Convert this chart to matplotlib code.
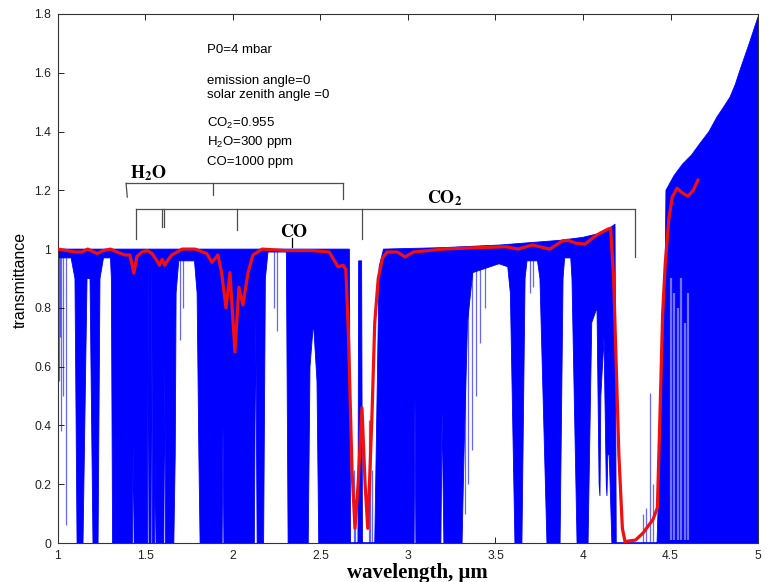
# Transmittance spectrum, 1-5 um, with smoothed curve and band markers

import numpy as np
import matplotlib
matplotlib.use("Agg")
import matplotlib.pyplot as plt

plt.rcParams['font.family'] = ['Liberation Sans', 'DejaVu Sans']
plt.rcParams['mathtext.fontset'] = 'custom'
plt.rcParams['mathtext.rm'] = 'Liberation Sans'
plt.rcParams['mathtext.it'] = 'Liberation Sans:italic'
plt.rcParams['mathtext.bf'] = 'Liberation Sans:bold'

# upper envelope of the high-resolution spectrum
up_wl = [1.0, 2.665, 2.672, 2.714, 2.718, 2.735, 2.74, 2.81, 2.835, 2.86, 3.2, 3.526,
         3.87, 4.0, 4.097, 4.15, 4.183, 4.19, 4.423, 4.469, 4.474, 4.52, 4.57, 4.62,
         4.669, 4.72, 4.766, 4.80, 4.84, 4.87, 4.897, 4.95, 5.0]
up_t = [1.0, 1.0, 0.0, 0.0, 0.96, 0.96, 0.0, 0.0, 0.94, 1.0, 1.005, 1.014,
        1.03, 1.04, 1.054, 1.07, 1.085, 0.0, 0.0, 0.9, 1.2, 1.25, 1.29, 1.32,
        1.36, 1.40, 1.45, 1.48, 1.517, 1.56, 1.609, 1.70, 1.79]

# lower envelope (deepest line in each part of the spectrum)
low_wl = [1.000, 1.075, 1.097, 1.109, 1.143,
          1.166, 1.183, 1.200, 1.229, 1.240, 1.260, 1.300, 1.305, 1.312, 1.425,
          1.430, 1.435, 1.512, 1.516, 1.520, 1.532, 1.536, 1.540, 1.552, 1.556,
          1.560, 1.605, 1.610, 1.615, 1.662, 1.670, 1.675, 1.690, 1.780, 1.795,
          1.805, 1.812, 1.938, 1.943, 1.948, 2.122, 2.130, 2.138, 2.175, 2.185,
          2.200, 2.305, 2.315, 2.430, 2.440, 2.460, 2.480, 2.490, 3.035, 3.040,
          3.045, 3.188, 3.195, 3.205, 3.309, 3.320, 3.340, 3.370, 3.470, 3.520,
          3.570, 3.585, 3.611, 3.651, 3.669, 3.680, 3.740, 3.754, 3.794, 3.869,
          3.886, 3.895, 3.930, 3.937, 3.966, 4.029, 4.050, 4.080, 4.092, 4.097,
          4.102, 4.120, 4.133, 4.137, 4.142, 4.150, 4.165, 5.000]
low_t = [0.97, 0.97, 0.90, 0.00, 0.00,
         0.90, 0.90, 0.00, 0.00, 0.90, 0.97, 0.97, 0.90, 0.00, 0.00,
         0.33, 0.00, 0.00, 0.97, 0.00, 0.00, 0.97, 0.00, 0.00, 0.30,
         0.00, 0.00, 0.60, 0.00, 0.00, 0.30, 0.85, 0.96, 0.96, 0.85,
         0.30, 0.00, 0.00, 0.40, 0.00, 0.00, 0.77, 0.00, 0.00, 0.90,
         0.99, 0.99, 0.00, 0.00, 0.60, 0.75, 0.55, 0.00, 0.00, 0.50,
         0.00, 0.00, 0.45, 0.00, 0.00, 0.30, 0.75, 0.92, 0.94, 0.95,
         0.94, 0.85, 0.00, 0.00, 0.90, 0.96, 0.96, 0.90, 0.00, 0.00,
         0.90, 0.97, 0.97, 0.90, 0.00, 0.00, 0.75, 0.80, 0.20, 0.16,
         0.50, 0.70, 0.20, 0.16, 0.30, 0.30, 0.00, 0.00]

# single lines hanging from the continuum
hang_wl = [1.005, 1.012, 1.020, 1.030, 1.048, 1.700, 1.715, 2.235, 2.250,
           3.325, 3.345, 3.366, 3.390, 3.410, 3.440, 3.700, 3.715]
hang_t = [0.55, 0.70, 0.38, 0.50, 0.06, 0.69, 0.80, 0.80, 0.72,
          0.10, 0.20, 0.316, 0.50, 0.68, 0.80, 0.85, 0.87]

# leaks inside saturated bands
leak_wl = [2.690, 2.700, 2.775, 2.785, 2.795, 4.345, 4.360, 4.383, 4.400]
leak_t = [0.25, 0.15, 0.42, 0.30, 0.25, 0.10, 0.12, 0.51, 0.20]

# lighter columns in the 4.5-4.6 um region
pale_wl = [4.505, 4.520, 4.545, 4.560, 4.585, 4.600]
pale_t = [0.90, 0.85, 0.80, 0.90, 0.75, 0.85]

# smoothed transmittance (red)
smooth_wl = [1.00, 1.05, 1.10, 1.137, 1.17, 1.223, 1.26, 1.30, 1.337, 1.383,
             1.411, 1.434, 1.451, 1.48, 1.51, 1.537, 1.566, 1.58, 1.595, 1.61,
             1.625, 1.65, 1.71, 1.783, 1.85, 1.88, 1.914, 1.935, 1.96, 1.983,
             2.011, 2.034, 2.057, 2.086, 2.114, 2.166, 2.30, 2.45, 2.55, 2.60,
             2.63, 2.645, 2.66, 2.68, 2.697, 2.715, 2.737, 2.755, 2.77, 2.78,
             2.795, 2.81, 2.83, 2.855, 2.88, 2.94, 2.983, 3.03, 3.20, 3.40,
             3.56, 3.63, 3.71, 3.81, 3.88, 3.914, 3.96, 4.011, 4.06, 4.097,
             4.143, 4.158, 4.175, 4.19, 4.205, 4.225, 4.24, 4.30, 4.343, 4.40,
             4.425, 4.44, 4.455, 4.47, 4.49, 4.51, 4.537, 4.57, 4.60, 4.63,
             4.657]
smooth_t = [1.00, 0.995, 0.99, 0.99, 1.00, 0.985, 0.995, 1.00, 0.99, 0.98,
            0.98, 0.918, 0.975, 0.99, 0.995, 0.985, 0.96, 0.945, 0.965, 0.945,
            0.96, 0.98, 1.00, 1.00, 0.985, 0.955, 0.98, 0.92, 0.80, 0.92,
            0.65, 0.87, 0.81, 0.92, 0.98, 1.00, 0.995, 0.995, 0.99, 0.94,
            0.945, 0.93, 0.70, 0.25, 0.05, 0.20, 0.46, 0.20, 0.05, 0.20,
            0.45, 0.75, 0.90, 0.97, 0.99, 0.99, 0.973, 0.99, 1.00, 1.005,
            1.008, 1.00, 1.014, 1.00, 1.027, 1.03, 1.02, 1.017, 1.04, 1.054,
            1.068, 1.071, 0.90, 0.60, 0.30, 0.05, 0.005, 0.01, 0.034, 0.08,
            0.12, 0.44, 0.78, 0.95, 1.10, 1.177, 1.207, 1.19, 1.18, 1.20,
            1.235]

xticks = [1, 1.5, 2, 2.5, 3, 3.5, 4, 4.5, 5]
xtick_labels = ['1', '1.5', '2', '2.5', '3', '3.5', '4', '4.5', '5']
yticks = [0, 0.2, 0.4, 0.6, 0.8, 1.0, 1.2, 1.4, 1.6, 1.8]
ytick_labels = ['0', '0.2', '0.4', '0.6', '0.8', '1', '1.2', '1.4', '1.6', '1.8']

conditions = ['P0=4 mbar', 'emission angle=0', 'solar zenith angle =0',
              'CO$_2$=0.955', 'H$_2$O=300 ppm', 'CO=1000 ppm']
cond_y = [1.677, 1.571, 1.524, 1.429, 1.364, 1.296]

# band brackets: bar height, bar ends, ticks
h2o_bar = [1.224, 1.389, 2.627]
h2o_ticks = [(1.389, 1.396, 1.177), (1.887, 1.887, 1.184), (2.627, 2.627, 1.169)]
co2_bar = [1.135, 1.444, 4.297]
co2_ticks = [(1.444, 1.033), (1.593, 1.076), (1.607, 1.076), (2.025, 1.065),
             (2.735, 1.036), (4.297, 0.973)]
co_tick = [2.337, 1.037, 1.007]

blue = '#0000ff'
gray = '#4d4d4d'

fig = plt.figure(figsize=(7.69, 5.82), dpi=100)
ax = fig.add_axes([0.0754, 0.067, 0.9103, 0.909])

# blue spectrum as the region between its envelopes
poly_x = np.concatenate([up_wl, low_wl[::-1]])
poly_y = np.concatenate([up_t, low_t[::-1]])
ax.fill(poly_x, poly_y, color=blue, lw=0.6, zorder=2)
ax.vlines(hang_wl, hang_t, 1.0, color=blue, lw=0.9, alpha=0.6, zorder=2)
ax.vlines(leak_wl, 0, leak_t, color=blue, lw=0.9, alpha=0.6, zorder=2)
ax.vlines(pale_wl, 0.01, pale_t, color='white', lw=1.6, alpha=0.45, zorder=2)

ax.plot(smooth_wl, smooth_t, color='#f01010', lw=2.3, zorder=3)

# conditions text
for s, yy in zip(conditions, cond_y):
    ax.text(1.851, yy, s, fontsize=9.5, va='center', ha='left')

# bracket lines
ax.plot([h2o_bar[1], h2o_bar[2]], [h2o_bar[0], h2o_bar[0]], color=gray, lw=0.9)
for x0, x1, yb in h2o_ticks:
    ax.plot([x0, x1], [h2o_bar[0], yb], color=gray, lw=0.9)
ax.plot([co2_bar[1], co2_bar[2]], [co2_bar[0], co2_bar[0]], color=gray, lw=0.9)
for x0, yb in co2_ticks:
    ax.plot([x0, x0], [co2_bar[0], yb], color=gray, lw=0.9)
ax.plot([co_tick[0], co_tick[0]], [co_tick[1], co_tick[2]], color='black', lw=0.9)

ax.text(1.411, 1.257, r'$\mathbf{H_2O}$', math_fontfamily='stix', fontsize=13,
        va='center', ha='left')
ax.text(3.109, 1.175, r'$\mathbf{CO_2}$', math_fontfamily='stix', fontsize=13,
        va='center', ha='left')
ax.text(2.269, 1.056, r'$\mathbf{CO}$', math_fontfamily='stix', fontsize=13,
        va='center', ha='left')

ax.set_xlim(1, 5)
ax.set_ylim(0, 1.8)
ax.set_xticks(xticks)
ax.set_xticklabels(xtick_labels)
ax.set_yticks(yticks)
ax.set_yticklabels(ytick_labels)
ax.tick_params(direction='in', length=4, width=0.7, top=True, right=True,
               labelsize=8.7, pad=5, colors='#222222')
for sp in ax.spines.values():
    sp.set_linewidth(0.8)
    sp.set_color('#333333')

ax.set_xlabel('wavelength, μm', fontfamily=['Liberation Serif', 'DejaVu Serif'],
              fontweight='bold', fontsize=15)
ax.xaxis.set_label_coords(0.514, -0.038)
ax.set_ylabel('transmittance', fontsize=11.5)
ax.yaxis.set_label_coords(-0.043, 0.497)

fig.savefig('out.png', dpi=100)
